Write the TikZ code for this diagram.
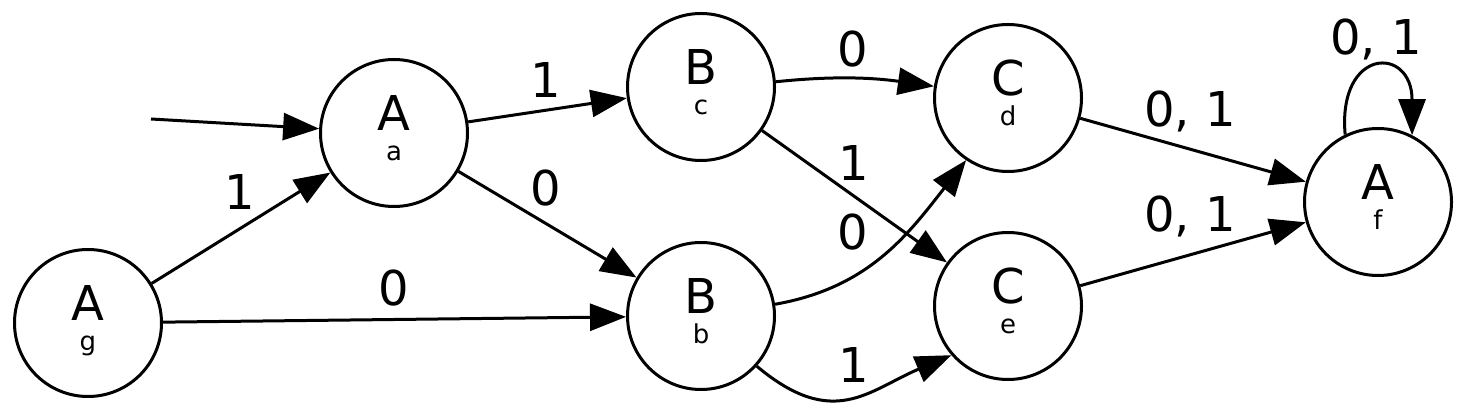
\documentclass[tikz,border=0pt]{standalone}
\usepackage{fontspec}
\setmainfont{DejaVu Sans}
\usetikzlibrary{arrows.meta,calc}
\begin{document}
\begin{tikzpicture}[x=1pt,y=1pt,
  state/.style={circle,draw,line width=3pt,minimum size=147pt,inner sep=0pt},
  bigtxt/.style={font=\fontsize{48}{58}\selectfont,anchor=base,inner sep=0pt},
  subtxt/.style={font=\fontsize{26}{31}\selectfont,anchor=base,inner sep=0pt},
  edge/.style={line width=3pt,-{Triangle[length=36pt,width=27pt]}},
  lbl/.style={font=\fontsize{48}{58}\selectfont,anchor=base,inner sep=0pt}]
\useasboundingbox (0,0) rectangle (1466,417);
% states
\node[state] (g) at (88,94) {};
\node[bigtxt] (g-t) at (88,96) {A};
\node[subtxt] (g-s) at (88,66) {g};
\node[state] (a) at (394,284) {};
\node[bigtxt] (a-t) at (394,286) {A};
\node[subtxt] (a-s) at (394,256) {a};
\node[state] (c) at (701,330) {};
\node[bigtxt] (c-t) at (701,332) {B};
\node[subtxt] (c-s) at (701,302) {c};
\node[state] (b) at (701,101) {};
\node[bigtxt] (b-t) at (701,103) {B};
\node[subtxt] (b-s) at (701,73) {b};
\node[state] (d) at (1008,319) {};
\node[bigtxt] (d-t) at (1008,321) {C};
\node[subtxt] (d-s) at (1008,291) {d};
\node[state] (e) at (1008,111) {};
\node[bigtxt] (e-t) at (1008,113) {C};
\node[subtxt] (e-s) at (1008,83) {e};
\node[state] (f) at (1378,215) {};
\node[bigtxt] (f-t) at (1378,217) {A};
\node[subtxt] (f-s) at (1378,187) {f};
\coordinate (s) at (151,298);
% edges
\draw[edge] (s) -- (a);
\draw[edge] (g) -- (a);
\draw[edge] (g) -- (b);
\draw[edge] (a) -- (c);
\draw[edge] (a) -- (b);
\draw[edge] (c.4.5) .. controls ($(c.4.5)+(6:60)$) and ($(d.171)+(172:60)$) .. (d.171);
\draw[edge] (c) -- (e);
\draw[edge] (b.9) .. controls ($(b.9)+(10:95)$) and ($(d.236)+(232:95)$) .. (d.236);
\draw[edge] (b.318) .. controls ($(b.318)+(-40:100)$) and ($(e.221)+(203:90)$) .. (e.221);
\draw[edge] (d) -- (f);
\draw[edge] (e) -- (f);
\draw[edge] (f.116) .. controls ($(f.116)+(95:88)$) and ($(f.63)+(90:90)$) .. (f.63);
% labels
\node[lbl] (l-ga) at (240,207) {1};
\node[lbl] (l-gb) at (393.5,111) {0};
\node[lbl] (l-ac) at (546,319) {1};
\node[lbl] (l-ab) at (546,211) {0};
\node[lbl] (l-cd) at (853,350) {0};
\node[lbl] (l-ce) at (853.5,236) {1};
\node[lbl] (l-bd) at (853,167) {0};
\node[lbl] (l-be) at (853.5,34) {1};
\node[lbl] (l-df) at (1190,290) {0, 1};
\node[lbl] (l-ef) at (1190,185) {0, 1};
\node[lbl] (l-ff) at (1376,362) {0, 1};
\end{tikzpicture}
\end{document}
